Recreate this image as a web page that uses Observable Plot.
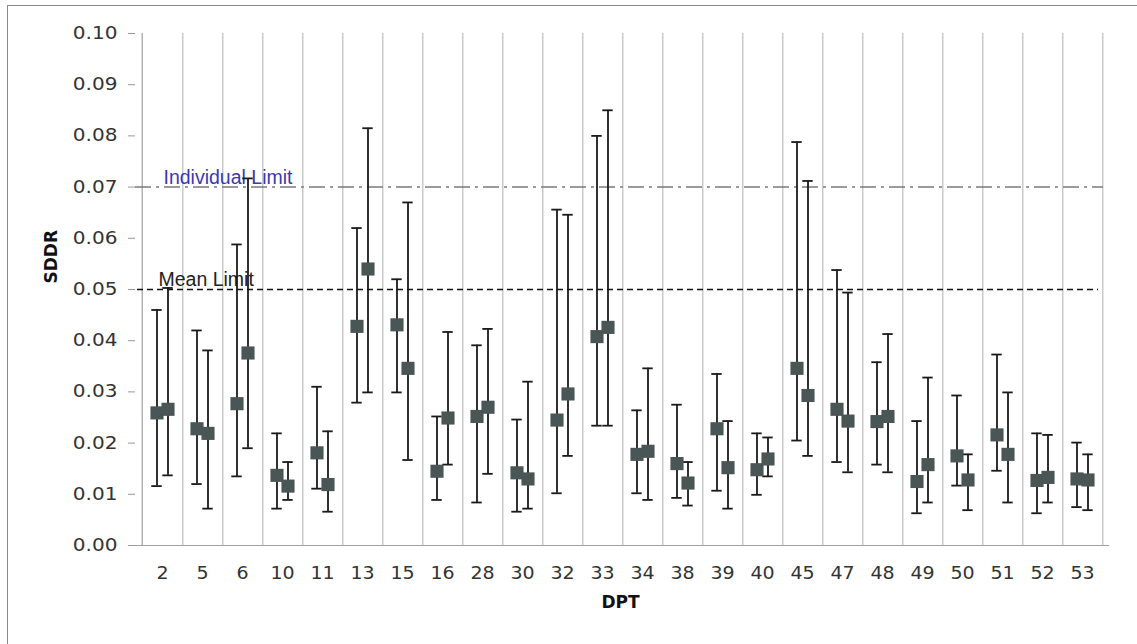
<!DOCTYPE html>
<html>
<head>
<meta charset="utf-8">
<script src="https://cdn.jsdelivr.net/npm/d3@7"></script>
<script src="https://cdn.jsdelivr.net/npm/@observablehq/plot@0.6"></script>
<style>
  body { margin: 0; background: #fff; }
  #wrap { position: relative; width: 1137px; height: 644px; overflow: hidden; background: #fff; }
  #border { position: absolute; left: 7px; top: 5px; width: 1200px; height: 700px;
            border-top: 1.5px solid #8a8a8a; border-left: 1.5px solid #8a8a8a; pointer-events: none; }
  #chart { position: absolute; left: 0; top: 0; }
</style>
</head>
<body>
<div id="wrap"><div id="border"></div><div id="chart"></div></div>
<script>
const categories = ["2","5","6","10","11","13","15","16","28","30","32","33","34","38","39","40","45","47","48","49","50","51","52","53"];

const meanA = [0.0259,0.0228,0.0277,0.0137,0.0181,0.0428,0.0431,0.0145,0.0252,0.0142,0.0245,0.0408,0.0178,0.0160,0.0228,0.0148,0.0346,0.0266,0.0242,0.0125,0.0175,0.0216,0.0127,0.0130];
const upperA = [0.0460,0.0420,0.0588,0.0219,0.0310,0.0620,0.0520,0.0252,0.0391,0.0246,0.0656,0.0800,0.0264,0.0275,0.0335,0.0219,0.0788,0.0538,0.0358,0.0243,0.0293,0.0373,0.0219,0.0201];
const lowerA = [0.0116,0.0120,0.0135,0.0072,0.0111,0.0279,0.0299,0.0089,0.0084,0.0066,0.0102,0.0234,0.0102,0.0093,0.0107,0.0099,0.0205,0.0163,0.0158,0.0063,0.0117,0.0146,0.0063,0.0075];

const meanB = [0.0266,0.0219,0.0376,0.0116,0.0119,0.0540,0.0346,0.0249,0.0270,0.0130,0.0296,0.0426,0.0184,0.0122,0.0152,0.0169,0.0293,0.0243,0.0252,0.0158,0.0128,0.0178,0.0133,0.0128];
const upperB = [0.0503,0.0381,0.0717,0.0163,0.0223,0.0815,0.0670,0.0417,0.0423,0.0320,0.0646,0.0850,0.0346,0.0163,0.0243,0.0211,0.0712,0.0494,0.0413,0.0328,0.0178,0.0299,0.0216,0.0178];
const lowerB = [0.0137,0.0072,0.0190,0.0089,0.0066,0.0299,0.0167,0.0158,0.0140,0.0072,0.0175,0.0234,0.0089,0.0078,0.0072,0.0135,0.0175,0.0143,0.0143,0.0084,0.0069,0.0084,0.0084,0.0069];

const yTicks = [0, 0.01, 0.02, 0.03, 0.04, 0.05, 0.06, 0.07, 0.08, 0.09, 0.10];
const individualLimit = 0.07;
const meanLimit = 0.05;
const xLabel = "DPT";
const yLabel = "SDDR";

const seriesA = categories.map((c, i) => ({cat: c, mean: meanA[i], lo: lowerA[i], hi: upperA[i]}));
const seriesB = categories.map((c, i) => ({cat: c, mean: meanB[i], lo: lowerB[i], hi: upperB[i]}));

const W = 1137, H = 644, mL = 135, mR = 28, mT = 33, mB = 99;
const bw = (W - mL - mR) / categories.length;
const capW = 11;
const capInset = (bw - capW) / 2;
const off = 5.5;
const markColor = "#4a5555";
const barColor = "#1a1a1a";

const errorMarks = (data, dx) => [
  Plot.ruleX(data, {x: "cat", y1: "lo", y2: "hi", dx, stroke: barColor, strokeWidth: 1.8}),
  Plot.tickY(data, {x: "cat", y: "hi", dx, insetLeft: capInset, insetRight: capInset, stroke: barColor, strokeWidth: 1.8}),
  Plot.tickY(data, {x: "cat", y: "lo", dx, insetLeft: capInset, insetRight: capInset, stroke: barColor, strokeWidth: 1.8})
];

const chart = Plot.plot({
  width: W, height: H,
  marginLeft: mL, marginRight: mR, marginTop: mT, marginBottom: mB,
  style: {fontFamily: "DejaVu Sans", fontSize: "17px", color: "#333", background: "transparent"},
  x: {type: "band", domain: categories, padding: 0},
  y: {domain: [0, 0.1]},
  marks: [
    // vertical grid lines at band boundaries
    Plot.ruleX(categories, {x: d => d, dx: bw / 2, y1: 0, y2: 0.1, stroke: "#bdbdbd", strokeWidth: 1.2}),
    Plot.ruleX(categories.slice(0, 1), {x: d => d, dx: -bw / 2, y1: 0, y2: 0.1, stroke: "#a0a0a0", strokeWidth: 1.2}),
    Plot.ruleY([0], {stroke: "#a0a0a0", strokeWidth: 1.2}),
    // limit lines
    Plot.ruleY([individualLimit], {stroke: "#7a7a7a", strokeWidth: 1.5, strokeDasharray: "16,5,3,5", insetRight: 6}),
    Plot.ruleY([meanLimit], {stroke: "#111", strokeWidth: 1.5, strokeDasharray: "6,4", insetLeft: 2, insetRight: 11}),
    Plot.text(["Individual Limit"], {y: individualLimit, frameAnchor: "left", dx: 28, dy: -3.5, textAnchor: "start", lineAnchor: "bottom",
      fill: "#3a3ab0", fontFamily: "Liberation Sans", fontSize: 19.5}),
    Plot.text(["Mean Limit"], {y: meanLimit, frameAnchor: "left", dx: 23, dy: -4, textAnchor: "start", lineAnchor: "bottom",
      fill: "#222", fontFamily: "Liberation Sans", fontSize: 19.5}),
    // error bars
    ...errorMarks(seriesA, -off),
    ...errorMarks(seriesB, off),
    // markers
    Plot.dot(seriesA, {x: "cat", y: "mean", dx: -off, symbol: "square", r: 7.4, fill: markColor, stroke: "none"}),
    Plot.dot(seriesB, {x: "cat", y: "mean", dx: off, symbol: "square", r: 7.4, fill: markColor, stroke: "none"}),
    // axes
    Plot.axisY({ticks: yTicks, tickFormat: d3.format(".2f"), tickSize: 7, tickPadding: 11, stroke: "#999", fill: "#333", fontSize: 17, label: null}),
    Plot.axisX({tickSize: 0, tickPadding: 21, fill: "#333", fontSize: 17, label: null}),
    Plot.text([yLabel], {frameAnchor: "left", dx: -84, dy: -6, rotate: -90, fontWeight: "bold", fontSize: 17, fill: "#111"}),
    Plot.text([xLabel], {frameAnchor: "bottom", dx: -2, dy: 62, fontWeight: "bold", fontSize: 17, fill: "#111"})
  ]
});

// widen the axis tick labels horizontally, like the reference
function stretch(selector, s) {
  chart.querySelectorAll(selector).forEach(t => {
    const tr = t.getAttribute("transform");
    if (tr) {
      t.setAttribute("transform", tr + ` scale(${s},1)`);
    } else {
      const x = +(t.getAttribute("x") || 0), y = +(t.getAttribute("y") || 0);
      t.removeAttribute("x"); t.removeAttribute("y");
      t.setAttribute("transform", `translate(${x},${y}) scale(${s},1)`);
    }
  });
}
stretch('g[aria-label="y-axis tick label"] text', 1.18);
stretch('g[aria-label="x-axis tick label"] text', 1.12);

document.getElementById("chart").appendChild(chart);
</script>
</body>
</html>
